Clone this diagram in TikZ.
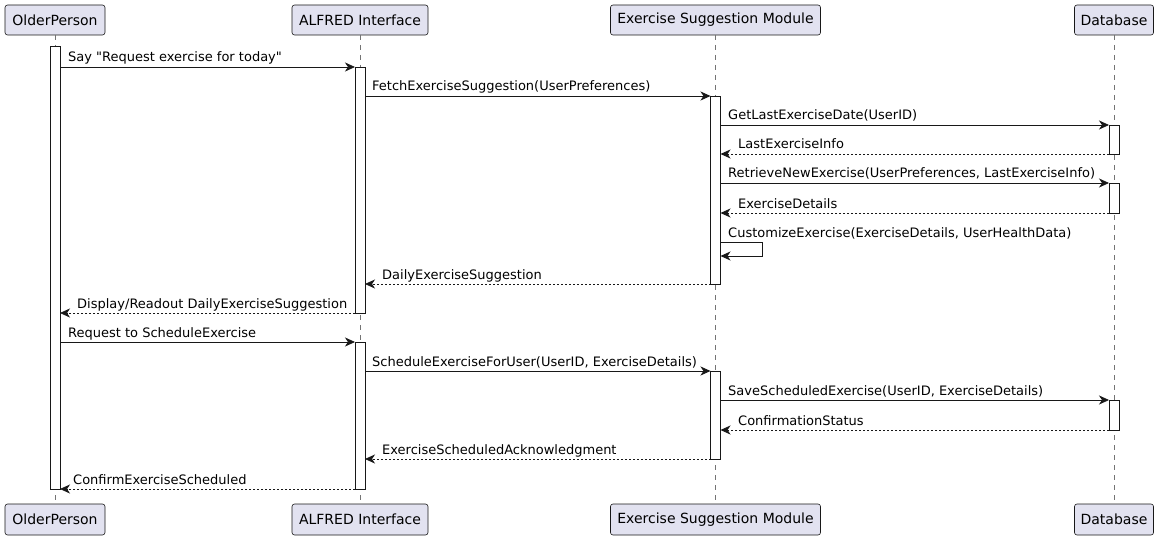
\documentclass[tikz,border=0pt]{standalone}
\usepackage{fontspec}
\setmainfont{DejaVu Sans}
\usetikzlibrary{arrows.meta}
\definecolor{partfill}{HTML}{E2E2F0}
\definecolor{linec}{HTML}{181818}
\begin{document}
\begin{tikzpicture}[x=1pt,y=-1pt,
  participant/.style={draw=linec,fill=partfill,rounded corners=2.5pt,line width=0.6pt,
    minimum height=30pt,inner sep=0pt,outer sep=0pt,font=\fontsize{14}{16}\selectfont},
  lifeline/.style={draw=linec!60,line width=0.6pt,dash pattern=on 5pt off 5pt},
  act/.style={draw=linec,fill=white,line width=0.8pt,minimum width=10pt,inner sep=0pt,outer sep=0pt},
  msg/.style={draw=linec,line width=0.8pt,-{Stealth[length=10pt,width=9pt,inset=3pt]}},
  ret/.style={msg,dash pattern=on 2pt off 2pt},
  lbl/.style={anchor=base west,inner sep=0pt,font=\fontsize{13}{15}\selectfont}]
\useasboundingbox (0,0) rectangle (1159,540);
% participants
\node[participant,minimum width=100pt] (opT) at (55,20) {OlderPerson};
\node[participant,minimum width=136pt] (alT) at (360,20) {ALFRED Interface};
\node[participant,minimum width=210pt] (esT) at (715.5,20) {Exercise Suggestion Module};
\node[participant,minimum width=79pt] (dbT) at (1114,20) {Database};
\node[participant,minimum width=100pt,minimum height=31pt] (opB) at (55,519.5) {OlderPerson};
\node[participant,minimum width=136pt,minimum height=31pt] (alB) at (360,519.5) {ALFRED Interface};
\node[participant,minimum width=210pt,minimum height=31pt] (esB) at (715.5,519.5) {Exercise Suggestion Module};
\node[participant,minimum width=79pt,minimum height=31pt] (dbB) at (1114,519.5) {Database};
% lifelines
\draw[lifeline] (opT.south) -- (opB.north);
\draw[lifeline] (alT.south) -- (alB.north);
\draw[lifeline] (esT.south) -- (esB.north);
\draw[lifeline] (dbT.south) -- (dbB.north);
% activations
\node[act,minimum height=443pt] (opA) at (55,267.5) {};
\node[act,minimum height=246pt] (alA) at (360,190) {};
\node[act,minimum height=147pt] (alB2) at (360,415.5) {};
\node[act,minimum height=188pt] (esA) at (715.5,190) {};
\node[act,minimum height=88pt] (esA2) at (715.5,415) {};
\node[act,minimum height=29pt] (dbA) at (1114,139.5) {};
\node[act,minimum height=30pt] (dbA2) at (1114,198) {};
\node[act,minimum height=30pt] (dbA3) at (1114,415) {};
% messages
\draw[msg] (opA.east |- 0,67) -- (alA.west |- 0,67);
\node[lbl] (l1) at (68,62) {Say \textquotedbl Request exercise for today\textquotedbl};
\draw[msg] (alA.east |- 0,96) -- (esA.west |- 0,96);
\node[lbl] (l2) at (372,91) {FetchExerciseSuggestion(UserPreferences)};
\draw[msg] (esA.east |- 0,125) -- (dbA.west |- 0,125);
\node[lbl] (l3) at (728,120) {GetLastExerciseDate(UserID)};
\draw[ret] (dbA.west |- 0,154) -- (esA.east |- 0,154);
\node[lbl] (l4) at (738,149) {LastExerciseInfo};
\draw[msg] (esA.east |- 0,183) -- (dbA2.west |- 0,183);
\node[lbl] (l5) at (728,178) {RetrieveNewExercise(UserPreferences, LastExerciseInfo)};
\draw[ret] (dbA2.west |- 0,213) -- (esA.east |- 0,213);
\node[lbl] (l6) at (738,208) {ExerciseDetails};
\draw[msg] (esA.east |- 0,242) -- ++(42,0) |- (esA.east |- 0,256);
\node[lbl] (l7) at (728,237) {CustomizeExercise(ExerciseDetails, UserHealthData)};
\draw[ret] (esA.west |- 0,284) -- (alA.east |- 0,284);
\node[lbl] (l8) at (382,279) {DailyExerciseSuggestion};
\draw[ret] (alA.west |- 0,313) -- (opA.east |- 0,313);
\node[lbl] (l9) at (77,308) {Display/Readout DailyExerciseSuggestion};
\draw[msg] (opA.east |- 0,342) -- (alB2.west |- 0,342);
\node[lbl] (l10) at (68,337) {Request to ScheduleExercise};
\draw[msg] (alB2.east |- 0,371) -- (esA2.west |- 0,371);
\node[lbl] (l11) at (372,366) {ScheduleExerciseForUser(UserID, ExerciseDetails)};
\draw[msg] (esA2.east |- 0,400) -- (dbA3.west |- 0,400);
\node[lbl] (l12) at (728,395) {SaveScheduledExercise(UserID, ExerciseDetails)};
\draw[ret] (dbA3.west |- 0,430) -- (esA2.east |- 0,430);
\node[lbl] (l13) at (738,425) {ConfirmationStatus};
\draw[ret] (esA2.west |- 0,459) -- (alB2.east |- 0,459);
\node[lbl] (l14) at (382,454) {ExerciseScheduledAcknowledgment};
\draw[ret] (alB2.west |- 0,489) -- (opA.east |- 0,489);
\node[lbl] (l15) at (73,484) {ConfirmExerciseScheduled};
\end{tikzpicture}
\end{document}
